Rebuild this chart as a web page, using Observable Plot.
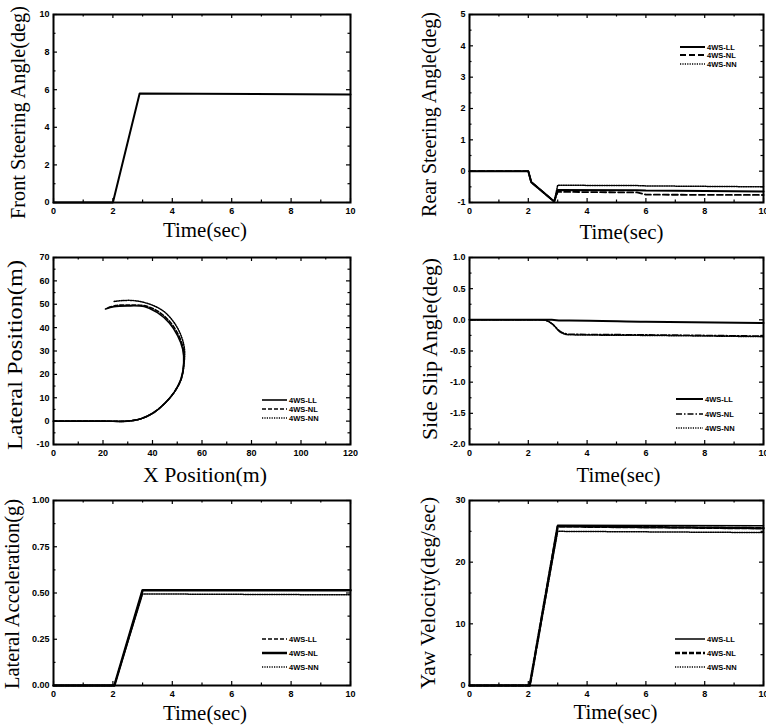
<!DOCTYPE html>
<html><head><meta charset="utf-8">
<script src="https://cdn.jsdelivr.net/npm/d3@7"></script>
<script src="https://cdn.jsdelivr.net/npm/@observablehq/plot@0.6"></script>
<style>
body{margin:0;background:#fff;}
#wrap{position:relative;width:766px;height:728px;overflow:hidden;background:#fff;}
#wrap svg{position:absolute;}
</style></head><body><div id="wrap"></div>
<script>
// ---------- data ----------
const seriesNames = ["4WS-LL", "4WS-NL", "4WS-NN"];
const timeTicks = [0, 2, 4, 6, 8, 10];

// Front steering angle
const frontT = [0, 2.0, 2.9, 10];
const frontDeg = [0, 0, 5.8, 5.75];
const frontTicks = [0, 2, 4, 6, 8, 10];

// Rear steering angle
const rearT = [0, 2.0, 2.1, 2.88, 3.0, 5.7, 6.0, 10];
const rearLL = [0, 0, -0.35, -0.97, -0.6, -0.61, -0.62, -0.65];
const rearNL = [0, 0, -0.35, -0.97, -0.66, -0.68, -0.75, -0.76];
const rearNN = [0, 0, -0.35, -0.97, -0.45, -0.46, -0.47, -0.5];
const rearTicks = [-1, 0, 1, 2, 3, 4, 5];

// Position
const posLLx = [0, 20, 29.8, 35.3, 40.7, 45.4, 48.8, 51.5, 52.6, 52.2, 50.2, 46.8, 42, 36.6, 29.8, 24.4, 21];
const posLLy = [0, 0, 0, 1, 3.8, 8.1, 12.4, 18, 25, 30.8, 36.5, 42, 46.4, 49, 49.3, 49, 48];
const posNLx = [0, 20, 29.8, 35.3, 40.7, 45.4, 48.8, 51.6, 52.7, 52.4, 50.5, 47.2, 42.5, 37, 30.5, 25, 22];
const posNLy = [0, 0, 0, 1, 3.8, 8.1, 12.4, 18, 25, 31, 36.8, 42.3, 46.8, 49.3, 49.7, 49.4, 48.5];
const posNNx = [0, 20, 29.8, 35.3, 40.7, 45.4, 48.8, 51.6, 52.8, 52.9, 51.4, 48.5, 44.5, 39, 33, 28, 24.5];
const posNNy = [0, 0, 0, 1, 3.8, 8.1, 12.4, 18, 25, 31, 37, 42.5, 47, 50, 51.5, 51.6, 51.2];
const posXTicks = [0, 20, 40, 60, 80, 100, 120];
const posYTicks = [-10, 0, 10, 20, 30, 40, 50, 60, 70];

// Side slip angle
const slipT = [0, 2.5, 2.8, 3.1, 3.4, 6, 10];
const slipLL = [0, 0, 0, -0.01, -0.01, -0.03, -0.05];
const slipNL = [0, 0, -0.06, -0.19, -0.23, -0.24, -0.26];
const slipNN = [0, 0, -0.06, -0.2, -0.24, -0.25, -0.27];
const slipTicks = [-2, -1.5, -1, -0.5, 0, 0.5, 1];

// Lateral acceleration
const accT = [0, 2.05, 3.0, 10];
const accLL = [0, 0, 0.515, 0.515];
const accNL = [0, 0, 0.515, 0.515];
const accNN = [0, 0, 0.495, 0.49];
const accTicks = [0, 0.25, 0.5, 0.75, 1];

// Yaw velocity
const yawT = [0, 2.05, 3.0, 10];
const yawLL = [0, 0, 26, 25.9];
const yawNL = [0, 0, 25.8, 25.5];
const yawNN = [0, 0, 25, 24.8];
const yawTicks = [0, 10, 20, 30];

// ---------- drawing ----------
const serif = "'Liberation Serif','DejaVu Serif',serif";
const sans = "'Liberation Sans',Arial,sans-serif";
const wrap = document.getElementById("wrap");
const rows = (xs, ys) => xs.map((x, i) => ({x, y: ys[i]}));
const minor = t => t.slice(0, -1).map((v, i) => (v + t[i + 1]) / 2);

function panel(c) {
  const fw = c.width - c.ml - c.mr, fh = c.height - c.mt - c.mb;
  const xm = minor(c.xTicks), ym = minor(c.yTicks);
  const tk = {stroke: "black", strokeWidth: 1.2};
  const marks = [
    Plot.tickX(c.xTicks, {x: d => d, insetTop: fh - 4, ...tk}),
    Plot.tickX(c.xTicks, {x: d => d, insetBottom: fh - 4, ...tk}),
    Plot.tickX(xm, {x: d => d, insetTop: fh - 2.5, ...tk}),
    Plot.tickX(xm, {x: d => d, insetBottom: fh - 2.5, ...tk}),
    Plot.tickY(c.yTicks, {y: d => d, insetRight: fw - 4, ...tk}),
    Plot.tickY(c.yTicks, {y: d => d, insetLeft: fw - 4, ...tk}),
    Plot.tickY(ym, {y: d => d, insetRight: fw - 2.5, ...tk}),
    Plot.tickY(ym, {y: d => d, insetLeft: fw - 2.5, ...tk}),
    Plot.axisX(c.xTicks, {tickSize: 0, tickPadding: 5, tickFormat: c.xFmt, fontSize: 9, fontWeight: "bold", fontFamily: sans, label: null}),
    Plot.axisY(c.yTicks, {tickSize: 0, tickPadding: 4, tickFormat: c.yFmt, fontSize: 9, fontWeight: "bold", fontFamily: sans, label: null}),
    ...c.lines.map(l => Plot.line(l.data, {x: "x", y: "y", stroke: "black", strokeWidth: l.w, strokeDasharray: l.dash, curve: c.curve || "linear"})),
    Plot.frame({stroke: "black", strokeWidth: 2}),
    Plot.text([c.ylab], {text: d => d, frameAnchor: "left", textAnchor: "middle", lineAnchor: "middle", rotate: -90, dx: c.yl[0], dy: c.yl[1], fontSize: 20, fontFamily: serif, fill: "black"}),
    Plot.text([c.xlab], {text: d => d, frameAnchor: "bottom", textAnchor: "middle", lineAnchor: "middle", dx: c.xl[0], dy: c.xl[1], fontSize: 20, fontFamily: serif, fill: "black"})
  ];
  const svg = Plot.plot({
    width: c.width, height: c.height,
    marginTop: c.mt, marginBottom: c.mb, marginLeft: c.ml, marginRight: c.mr,
    x: {domain: c.xDomain}, y: {domain: c.yDomain},
    style: {background: "transparent", overflow: "visible"},
    marks
  });
  svg.querySelectorAll("text").forEach(t => {
    if (t.textContent === c.ylab) { t.setAttribute("textLength", c.ylen); t.setAttribute("lengthAdjust", "spacingAndGlyphs"); }
    if (t.textContent === c.xlab) { t.setAttribute("textLength", c.xlen); t.setAttribute("lengthAdjust", "spacingAndGlyphs"); }
  });
  svg.style.left = c.left + "px";
  svg.style.top = c.top + "px";
  wrap.appendChild(svg);
}

const fmtInt = d => String(d);
const fmt1 = d => d.toFixed(1);
const fmt2 = d => d.toFixed(2);

const colL = {left: 0, width: 383, ml: 53, mr: 33};
const colR = {left: 383, width: 383, ml: 86, mr: 3};
const row1 = {top: 0, height: 245, mt: 14, mb: 43};
const row2 = {top: 245, height: 240, mt: 12, mb: 41};
const row3 = {top: 485, height: 243, mt: 15, mb: 43};

const st2 = [{w: 2, dash: null}, {w: 1.8, dash: "6,3"}, {w: 1.5, dash: "1.2,1.2"}];
const st3 = [{w: 1.6, dash: null}, {w: 1.6, dash: "4,2"}, {w: 1.5, dash: "1.2,1.2"}];
const st4 = [{w: 2, dash: null}, {w: 1.5, dash: "6,2,1.5,2"}, {w: 1.5, dash: "1.2,1.2"}];
const st5 = [{w: 1.3, dash: "4,2"}, {w: 2.5, dash: null}, {w: 1.5, dash: "1.2,1.2"}];
const st6 = [{w: 1.5, dash: null}, {w: 2.5, dash: "5,2"}, {w: 1.5, dash: "1.2,1.2"}];
const mk = (st, datas) => datas.map((d, i) => ({data: d, ...st[i]})).reverse();

panel({...colL, ...row1, xDomain: [0, 10], xTicks: timeTicks, xFmt: fmtInt, yDomain: [0, 10], yTicks: frontTicks, yFmt: fmtInt,
  lines: [{data: rows(frontT, frontDeg), w: 2, dash: null}],
  ylab: "Front Steering Angle(deg)", ylen: 213, xlab: "Time(sec)", xlen: 84, yl: [-35, 4], xl: [3, 28]});

panel({...colR, ...row1, xDomain: [0, 10], xTicks: timeTicks, xFmt: fmtInt, yDomain: [-1, 5], yTicks: rearTicks, yFmt: fmtInt,
  lines: mk(st2, [rows(rearT, rearLL), rows(rearT, rearNL), rows(rearT, rearNN)]),
  ylab: "Rear Steering Angle(deg)", ylen: 205, xlab: "Time(sec)", xlen: 84, yl: [-40, 6], xl: [5, 30]});

panel({...colL, ...row2, xDomain: [0, 120], xTicks: posXTicks, xFmt: fmtInt, yDomain: [-10, 70], yTicks: posYTicks, yFmt: fmtInt,
  lines: mk(st3, [rows(posLLx, posLLy), rows(posNLx, posNLy), rows(posNNx, posNNy)]), curve: "catmull-rom",
  ylab: "Lateral Position(m)", ylen: 190, xlab: "X Position(m)", xlen: 124, yl: [-38, 4], xl: [3, 31]});

panel({...colR, ...row2, xDomain: [0, 10], xTicks: timeTicks, xFmt: fmtInt, yDomain: [-2, 1], yTicks: slipTicks, yFmt: fmt1,
  lines: mk(st4, [rows(slipT, slipLL), rows(slipT, slipNL), rows(slipT, slipNN)]), curve: "monotone-x",
  ylab: "Side Slip Angle(deg)", ylen: 182, xlab: "Time(sec)", xlen: 84, yl: [-39, -2], xl: [2, 31]});

panel({...colL, ...row3, xDomain: [0, 10], xTicks: timeTicks, xFmt: fmtInt, yDomain: [0, 1], yTicks: accTicks, yFmt: fmt2,
  lines: mk(st5, [rows(accT, accLL), rows(accT, accNL), rows(accT, accNN)]),
  ylab: "Lateral Acceleration(g)", ylen: 190, xlab: "Time(sec)", xlen: 84, yl: [-41, 1], xl: [3, 28]});

panel({...colR, ...row3, xDomain: [0, 10], xTicks: timeTicks, xFmt: fmtInt, yDomain: [0, 30], yTicks: yawTicks, yFmt: fmtInt,
  lines: mk(st6, [rows(yawT, yawLL), rows(yawT, yawNL), rows(yawT, yawNN)]),
  ylab: "Yaw Velocity(deg/sec)", ylen: 192, xlab: "Time(sec)", xlen: 84, yl: [-41, 0], xl: [-1, 27]});

// ---------- legends ----------
const legends = [
  {x: 680, len: 25, ys: [47, 55, 64], st: st2},
  {x: 262, len: 25, ys: [400, 409, 418], st: st3},
  {x: 676, len: 27, ys: [399, 414, 428], st: st4},
  {x: 262, len: 25, ys: [639, 653, 667], st: st5},
  {x: 675, len: 30, ys: [639, 653, 667], st: st6}
];
const ov = d3.select(wrap).append("svg").attr("width", 766).attr("height", 728)
  .style("left", "0px").style("top", "0px").style("pointer-events", "none");
legends.forEach(L => {
  seriesNames.forEach((name, i) => {
    const s = L.st[i];
    ov.append("line").attr("x1", L.x).attr("x2", L.x + L.len).attr("y1", L.ys[i]).attr("y2", L.ys[i])
      .attr("stroke", "black").attr("stroke-width", s.w).attr("stroke-dasharray", s.dash);
    ov.append("text").attr("x", L.x + L.len + 2).attr("y", L.ys[i]).attr("dy", "0.35em")
      .attr("font-family", sans).attr("font-weight", "bold").attr("font-size", 7.5).text(name);
  });
});
</script></body></html>
